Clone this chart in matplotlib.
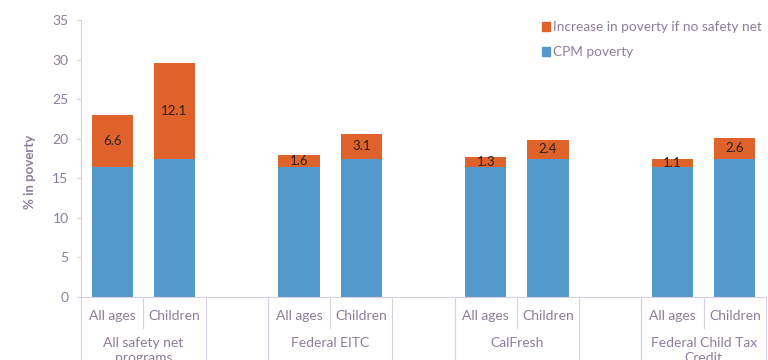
import numpy as np
import matplotlib
matplotlib.use("Agg")
import matplotlib.pyplot as plt
from matplotlib.patches import Patch

plt.rcParams['font.family'] = ['Lato', 'DejaVu Sans']

# Poverty rates (%) by program and age group
programs = ["All safety net\nprograms", "Federal EITC", "CalFresh", "Federal Child Tax\nCredit"]
ages = ["All ages", "Children"]
cpm_poverty = [16.4, 17.5, 16.4, 17.5, 16.4, 17.5, 16.4, 17.5]
increase = [6.6, 12.1, 1.6, 3.1, 1.3, 2.4, 1.1, 2.6]

blue = "#5499CB"
orange = "#E0622B"
text_col = "#8E7C9C"
line_col = "#D8D0E0"

# two bars per program, one empty slot between programs
pos = []
for g in range(len(programs)):
    pos += [g * 3, g * 3 + 1]
pos = np.array(pos)

fig = plt.figure(figsize=(7.68, 3.6), dpi=100)
ax = fig.add_axes([81 / 768, 63 / 360, 685 / 768, 277 / 360])

ax.bar(pos, cpm_poverty, width=0.66, color=blue, label="CPM poverty", zorder=2)
ax.bar(pos, increase, width=0.66, bottom=cpm_poverty, color=orange,
       label="Increase in poverty if no safety net", zorder=2)

for x, b, v in zip(pos, cpm_poverty, increase):
    ax.text(x, b + v / 2, f"{v:.1f}", ha="center", va="center", fontsize=9.5,
            color="#2a2020", zorder=3)

ax.set_xlim(-0.5, 10.5)
ax.set_ylim(0, 35)
ax.set_yticks(range(0, 36, 5))
ax.tick_params(axis="y", colors=line_col, labelcolor=text_col, labelsize=10,
               length=3, width=0.8, pad=6)
ax.set_xticks([])
for s in ["top", "right"]:
    ax.spines[s].set_visible(False)
ax.spines["left"].set_color(line_col)
ax.spines["bottom"].set_color(line_col)
ax.spines["bottom"].set_bounds(-0.55, 10.5)
ax.set_ylabel("% in poverty", color=text_col, fontsize=9.5, fontweight="bold")
ax.yaxis.set_label_coords(-0.066, 0.45)

# two-level category axis drawn below the plot
trans = ax.get_xaxis_transform()
for g in range(len(programs)):
    left = g * 3 - 0.5
    for edge in [left, left + 2, left + 3]:
        ax.plot([edge, edge], [0, -0.25], transform=trans, color=line_col,
                lw=0.8, clip_on=False)
    ax.plot([left + 1, left + 1], [0, -0.112], transform=trans, color=line_col,
            lw=0.8, clip_on=False)
    for i, a in enumerate(ages):
        ax.text(g * 3 + i, -0.07, a, transform=trans, ha="center", va="center",
                fontsize=10, color=text_col)
    ax.text(g * 3 + 0.5, -0.145, programs[g], transform=trans, ha="center",
            va="top", fontsize=10, color=text_col, linespacing=1.25)

handles = [Patch(color=orange), Patch(color=blue)]
ax.legend(handles, ["Increase in poverty if no safety net", "CPM poverty"],
          loc="upper left", bbox_to_anchor=(0.655, 1.04), frameon=False,
          fontsize=9.8, labelcolor=text_col, handlelength=0.6, handleheight=0.6,
          handletextpad=0.25, labelspacing=0.95)

fig.savefig("out.png", dpi=100)
